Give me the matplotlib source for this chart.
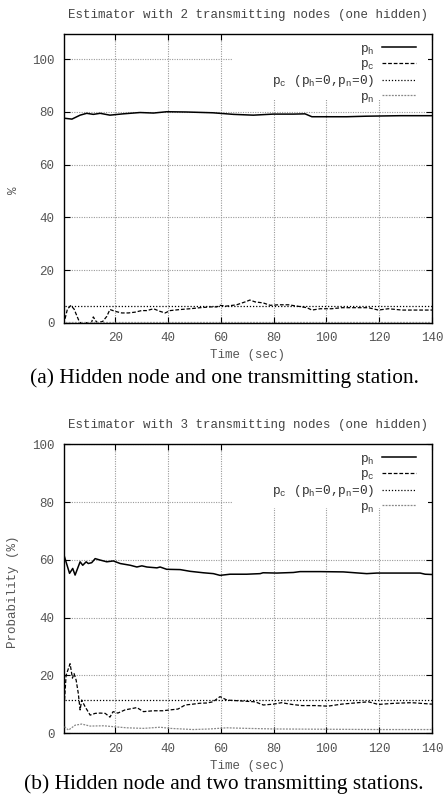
import matplotlib
matplotlib.use("Agg")
import matplotlib.pyplot as plt
from matplotlib.patches import Rectangle

plt.rcParams['font.family'] = ['Liberation Mono', 'DejaVu Sans Mono']
plt.rcParams['mathtext.fontset'] = 'custom'
plt.rcParams['mathtext.rm'] = 'Liberation Mono'
plt.rcParams['mathtext.it'] = 'Liberation Mono'

# ---------------- data: (a) 2 transmitting nodes ----------------
a_ph_t = [1, 3.6, 6.7, 9.2, 11.7, 14.3, 18, 23, 29.4, 34.5, 39.5, 47, 57, 64.8, 72.3, 79.9, 87.5, 91.9, 94.5, 100, 107.7, 115, 128, 140]
a_ph   = [77.6, 77.3, 78.8, 79.5, 79.1, 79.5, 78.8, 79.3, 79.8, 79.6, 80.1, 80.0, 79.7, 79.1, 78.8, 79.2, 79.2, 79.3, 78.2, 78.2, 78.2, 78.4, 78.6, 78.6]
a_pc_t = [1, 1.9, 3.2, 4.4, 6.1, 6.7, 11, 11.7, 12.7, 13.3, 15.3, 16.8, 18, 20, 22.5, 25, 27.5, 30, 32, 34.5, 37, 38.9, 40.8, 44.6, 48.4, 52.2, 56, 58.5, 59.7, 62.2, 66, 69.8, 71, 73, 76.1, 78.7, 81.9, 85.6, 89.5, 92.6, 94.5, 97.7, 102, 105.8, 110.8, 115.9, 119.7, 123.5, 128.6, 133.6, 140]
a_pc   = [1.5, 5.2, 6.5, 5.2, 1.1, 0, 0, 2.2, 0.6, 0, 0.5, 2.4, 5.0, 4.3, 3.7, 3.7, 4.0, 4.6, 4.6, 5.3, 4.3, 3.7, 4.6, 5.0, 5.3, 5.7, 6.0, 6.0, 6.6, 6.3, 6.8, 8.1, 8.6, 7.9, 7.5, 6.6, 6.8, 6.8, 6.2, 5.7, 4.8, 5.3, 5.3, 5.7, 5.7, 5.7, 4.8, 5.3, 4.8, 4.8, 4.8]
a_pc0_t = [1, 140]
a_pc0   = [6.45, 6.45]
a_pn_t = [1, 140]
a_pn   = [0.3, 0.3]

# ---------------- data: (b) 3 transmitting nodes ----------------
b_ph_t = [0.8, 2.7, 3.9, 4.8, 6.7, 7.7, 9, 9.8, 11.1, 12.4, 14.3, 16.8, 19.3, 21.9, 25.7, 28.2, 30.1, 32, 35.8, 37, 39.5, 44.6, 48.4, 53.4, 57.2, 59.7, 63.5, 69.8, 74.9, 76, 81.2, 87.5, 90, 97.6, 106.4, 115.3, 119.1, 128, 135.5, 137.4, 140]
b_ph   = [61, 55.3, 57, 54.7, 59.3, 58.1, 59.3, 58.7, 59, 60.4, 59.9, 59.3, 59.6, 58.7, 58.1, 57.5, 57.9, 57.5, 57.2, 57.5, 56.7, 56.6, 56, 55.5, 55.2, 54.6, 55, 55, 55.2, 55.5, 55.4, 55.6, 55.9, 55.9, 55.8, 55.2, 55.4, 55.4, 55.4, 55, 54.9]
b_pc_t = [0.8, 1.4, 2.9, 3.8, 4.4, 5.2, 6, 6.7, 7.3, 8.6, 10.5, 12.4, 14.3, 16.2, 18, 19.2, 21, 23.7, 28.2, 30.7, 34.4, 38, 40.8, 43.8, 46.5, 49.5, 52, 54.7, 57, 59.7, 62.3, 66, 69.5, 73, 76.1, 80, 83, 86.9, 90.7, 95.7, 100.6, 105.8, 112, 115.9, 119.7, 126, 132.3, 140]
b_pc   = [11.5, 20, 24, 19, 20.6, 18.3, 13.8, 8, 11.4, 9.1, 6.2, 6.8, 6.9, 6.8, 5.5, 7.4, 6.9, 8, 8.8, 7.4, 7.7, 7.7, 8, 8.3, 9.7, 10, 10.3, 10.4, 10.8, 12.6, 11.4, 11.2, 11.0, 10.8, 9.7, 10, 10.5, 9.9, 9.5, 9.5, 9.3, 10, 10.5, 10.8, 9.9, 10.3, 10.5, 10]
b_pc0_t = [0.8, 140]
b_pc0   = [11.4, 11.4]
b_pn_t = [0.8, 2.3, 4.8, 7.3, 10.5, 15.6, 19.2, 24.4, 30.7, 37, 40.8, 49.5, 55.8, 62.3, 69.8, 80, 100, 120, 140]
b_pn   = [2.2, 1.0, 2.7, 3.1, 2.4, 2.5, 2.2, 1.8, 1.6, 2.0, 1.6, 1.2, 1.4, 1.8, 1.6, 1.4, 1.3, 1.2, 1.2]

x_ticks = [20, 40, 60, 80, 100, 120, 140]
y_ticks = [0, 20, 40, 60, 80, 100]

labels = [r'p$_\mathrm{h}$', r'p$_\mathrm{c}$',
          r'p$_\mathrm{c}$ (p$_\mathrm{h}$=0,p$_\mathrm{n}$=0)', r'p$_\mathrm{n}$']

W, H = 448, 798
fig = plt.figure(figsize=(W / 100, H / 100), dpi=100)

FS = 9.0
LFS = 9.3
TICKC = '#555555'
GRIDC = '#9a9a9a'


def make_axes(top_px, bottom_px):
    left, right = 64, 432
    return fig.add_axes([left / W, 1 - bottom_px / H, (right - left) / W, (bottom_px - top_px) / H])


def style(ax, series, ylim, title, ylabel, ylab_x, ylab_y, rect_bottom):
    (ph_t, ph), (pc_t, pc), (pc0_t, pc0), (pn_t, pn) = series
    ax.plot(ph_t, ph, color='black', lw=1.1, ls='-', label=labels[0], zorder=3)
    ax.plot(pc_t, pc, color='black', lw=0.9, ls=(0, (3, 1.5)), label=labels[1], zorder=3)
    ax.plot(pc0_t, pc0, color='black', lw=0.9, ls=(0, (1, 1.5)), label=labels[2], zorder=3)
    ax.plot(pn_t, pn, color='#888888', lw=0.9, ls=(0, (1.5, 1)), label=labels[3], zorder=3)
    ax.set_xlim(0.6, 140)
    ax.set_ylim(*ylim)
    ax.set_xticks(x_ticks)
    ax.set_yticks(y_ticks)
    ax.tick_params(direction='in', length=4, width=0.8, top=True, right=True,
                   labelsize=FS, labelcolor=TICKC, pad=7, color='black')
    ax.set_axisbelow(True)
    ax.grid(True, color=GRIDC, ls=(0, (1, 1.2)), lw=0.8)
    for s in ax.spines.values():
        s.set_linewidth(1.0)
        s.set_color('black')
    # key area hides the grid (gnuplot style)
    ax.add_patch(Rectangle((0.457, rect_bottom), 0.532, 1 - rect_bottom, transform=ax.transAxes,
                           facecolor='white', edgecolor='none', zorder=1))
    ax.set_title(title, fontsize=FS, color='#444444', pad=11.8)
    ax.set_xlabel('Time (sec)', fontsize=FS, color=TICKC, labelpad=3.5)
    ax.set_ylabel(ylabel, fontsize=FS, color=TICKC)
    ax.yaxis.set_label_coords(ylab_x, ylab_y)
    leg = ax.legend(loc='upper right', bbox_to_anchor=(1 - 8 / 368, 1), frameon=False,
                    markerfirst=False, fontsize=LFS,
                    handlelength=2.6, handletextpad=0.55, labelspacing=0.1,
                    borderaxespad=0.3, borderpad=0.35)
    for t in leg.get_texts():
        t.set_color('#333333')
    leg.set_zorder(5)


ax1 = make_axes(34.3, 322.7)
style(ax1, [(a_ph_t, a_ph), (a_pc_t, a_pc), (a_pc0_t, a_pc0), (a_pn_t, a_pn)],
      (0, 109.5), 'Estimator with 2 transmitting nodes (one hidden)', '%', -0.12, 0.46, 0.772)

ax2 = make_axes(444.3, 733)
style(ax2, [(b_ph_t, b_ph), (b_pc_t, b_pc), (b_pc0_t, b_pc0), (b_pn_t, b_pn)],
      (0, 100), 'Estimator with 3 transmitting nodes (one hidden)', 'Probability (%)', -0.122, 0.49, 0.779)

fig.text(0.5, 1 - 383.5 / H, '(a) Hidden node and one transmitting station.',
         ha='center', va='baseline', fontsize=15.4, family='Liberation Serif', color='black')
fig.text(0.5, 1 - 789 / H, '(b) Hidden node and two transmitting stations.',
         ha='center', va='baseline', fontsize=15.4, family='Liberation Serif', color='black')

fig.savefig('out.png', dpi=100, facecolor='white')
